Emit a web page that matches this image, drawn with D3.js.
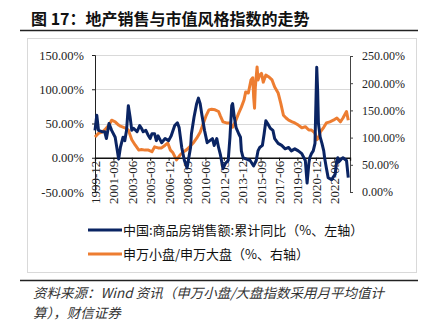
<!DOCTYPE html>
<html>
<head>
<meta charset="utf-8">
<script src="https://cdn.jsdelivr.net/npm/d3@7"></script>
<style>
  body { margin: 0; background: #fff; }
  svg { display: block; }
</style>
</head>
<body>
<div id="chart"></div>
<script>
// 中国:商品房销售额:累计同比 (%, left axis)
var salesDates = ["1999-12","2000-02","2000-04","2000-08","2000-11","2001-01","2001-04","2001-07","2001-11","2002-03","2002-05","2002-08","2002-10","2002-12","2003-02","2003-04","2003-06","2003-08","2003-12","2004-03","2004-05","2004-07","2004-10","2005-01","2005-03","2005-05","2005-08","2005-10","2005-12","2006-04","2006-08","2006-12","2007-03","2007-07","2007-10","2007-12","2008-03","2008-06","2008-09","2008-11","2009-01","2009-02","2009-05","2009-08","2009-10","2009-12","2010-02","2010-05","2010-08","2010-11","2011-02","2011-04","2011-07","2011-09","2011-11","2012-02","2012-05","2012-08","2012-10","2012-12","2013-01","2013-03","2013-05","2013-08","2013-10","2013-11","2014-01","2014-05","2014-09","2015-01","2015-04","2015-06","2015-08","2015-11","2016-01","2016-03","2016-05","2016-08","2016-11","2017-01","2017-05","2017-09","2018-01","2018-05","2018-08","2018-12","2019-04","2019-08","2019-12","2020-02","2020-04","2020-05","2020-07","2020-09","2020-11","2021-01","2021-02","2021-03","2021-05","2021-07","2021-09","2021-10","2021-12","2022-02","2022-06","2022-10","2022-12","2023-01","2023-02","2023-05","2023-07","2023-11","2024-01"]
var salesYoy = [40,62,40,38,38,28,50,40,30,-2,15,30,25,40,76,60,40,43,38,47,43,38,40,32,28,35,35,25,32,22,28,25,32,47,51,44,15,-4,-15,0,15,35,59,79,87,79,62,40,22,25,28,18,28,15,5,-16,-8,-4,30,76,79,59,44,35,30,10,0,-2,-4,-12,-4,10,15,18,35,54,50,43,40,28,21,18,13,15,10,13,10,6,-4,-37,-9,0,6,10,21,132,98,50,30,21,10,0,-15,-29,-32,-24,-4,0,-6,-2,0,-4,-29]

// 申万小盘/申万大盘 (%, right axis)
var styleDates = ["1999-12","2000-04","2000-08","2000-11","2001-04","2001-07","2001-11","2002-03","2002-05","2002-10","2003-02","2003-04","2003-06","2003-10","2004-02","2004-05","2004-09","2005-01","2005-05","2005-08","2005-12","2006-04","2006-08","2006-11","2007-02","2007-05","2007-09","2008-01","2008-05","2008-08","2008-12","2009-04","2009-08","2009-12","2010-03","2010-07","2010-10","2011-01","2011-05","2011-09","2011-11","2012-02","2012-06","2012-10","2013-01","2013-04","2013-08","2013-11","2014-02","2014-04","2014-07","2014-10","2014-12","2015-01","2015-02","2015-03","2015-05","2015-06","2015-08","2015-10","2015-12","2016-03","2016-06","2016-10","2017-01","2017-05","2017-08","2017-11","2018-02","2018-05","2018-09","2018-12","2019-04","2019-08","2019-12","2020-04","2020-07","2020-11","2021-01","2021-03","2021-05","2021-09","2021-12","2022-04","2022-08","2022-12","2023-04","2023-07","2023-11","2024-01"]
var styleRatio = [101,108,110,114,123,132,129,123,121,118,114,105,96,86,77,78,77,77,74,83,81,81,86,90,77,72,59,68,74,77,83,90,99,110,123,141,151,152,151,148,140,129,127,127,119,129,145,156,169,184,182,206,210,175,154,193,230,206,215,218,202,215,212,206,193,182,163,141,136,132,129,127,123,118,120,114,114,108,96,99,110,119,127,129,132,136,129,136,148,132]

var xTickLabels = ["1999-12","2001-09","2003-06","2005-03","2006-12","2008-09","2010-06","2012-03","2013-12","2015-09","2017-06","2019-03","2020-12","2022-09"]
var leftTicks = [-50, 0, 50, 100, 150]
var rightTicks = [0, 50, 100, 150, 200, 250]

var salesName = "中国:商品房销售额:累计同比（%、左轴）"
var styleName = "申万小盘/申万大盘（%、右轴）"

var W = 428, H = 322
var parse = d3.timeParse("%Y-%m")

var svg = d3.select("#chart").append("svg")
    .attr("width", W)
    .attr("height", H)

// title
svg.append("text")
    .attr("x", 31).attr("y", 25)
    .attr("font-family", "'Noto Sans CJK SC', sans-serif")
    .attr("font-weight", "bold")
    .attr("font-size", 16)
    .attr("fill", "#111")
    .text("图 17：地产销售与市值风格指数的走势")

svg.append("line")
    .attr("x1", 20).attr("x2", 418).attr("y1", 30.5).attr("y2", 30.5)
    .attr("stroke", "#222").attr("stroke-width", 1.5)

// chart frame
svg.append("rect")
    .attr("x", 27.5).attr("y", 38.5).attr("width", 389).attr("height", 234)
    .attr("fill", "none").attr("stroke", "#d9d9d9")

var x = d3.scaleTime()
    .domain([parse("1999-12"), parse("2024-03")])
    .range([95, 350])
var yL = d3.scaleLinear().domain([-50, 150]).range([192, 55])
var yR = d3.scaleLinear().domain([0, 250]).range([192, 56])

// gridlines
svg.append("g").selectAll("line")
    .data(leftTicks.filter(function(d){ return d > 0 }))
    .enter().append("line")
    .attr("x1", 95).attr("x2", 350)
    .attr("y1", function(d){ return Math.round(yL(d)) + 0.5 })
    .attr("y2", function(d){ return Math.round(yL(d)) + 0.5 })
    .attr("stroke", "#d9d9d9")

// left axis
var gl = svg.append("g")
    .attr("transform", "translate(95,0)")
    .call(d3.axisLeft(yL).tickValues(leftTicks).tickSize(3).tickPadding(8)
        .tickFormat(function(d){ return d.toFixed(2) + "%" }))
gl.select(".domain").attr("stroke", "#222")
gl.selectAll("line").attr("stroke", "#222")
gl.selectAll("text")
    .attr("font-family", "'Liberation Serif', serif")
    .attr("font-size", 12.5)
    .attr("fill", "#222")

// right axis
var gr = svg.append("g")
    .attr("transform", "translate(350,0)")
    .call(d3.axisRight(yR).tickValues(rightTicks).tickSize(3).tickPadding(9)
        .tickFormat(function(d){ return d.toFixed(2) + "%" }))
gr.select(".domain").attr("stroke", "#444")
gr.selectAll("line").attr("stroke", "#444")
gr.selectAll("text")
    .attr("font-family", "'Liberation Serif', serif")
    .attr("font-size", 12)
    .attr("fill", "#222")

// lines
var styleLine = d3.line()
    .x(function(d, i){ return x(parse(styleDates[i])) })
    .y(function(d){ return yR(d) })
var salesLine = d3.line()
    .x(function(d, i){ return x(parse(salesDates[i])) })
    .y(function(d){ return yL(d) })

svg.append("path")
    .datum(styleRatio)
    .attr("d", styleLine)
    .attr("fill", "none")
    .attr("stroke", "#ed7d31")
    .attr("stroke-width", 3)
    .attr("stroke-linejoin", "round")

// x axis at 0% of the left axis
var gx = svg.append("g")
    .attr("transform", "translate(0," + yL(0) + ")")
    .call(d3.axisBottom(x)
        .tickValues(xTickLabels.map(function(s){ return parse(s) }))
        .tickSize(3)
        .tickFormat(d3.timeFormat("%Y-%m")))
gx.select(".domain").attr("stroke", "#111").attr("stroke-width", 1.3)
gx.selectAll("line").attr("stroke", "#111")
gx.selectAll("text")
    .attr("font-family", "'Liberation Serif', serif")
    .attr("font-size", 13)
    .attr("fill", "#222")
    .attr("transform", "rotate(-90)")
    .attr("text-anchor", "end")
    .attr("x", -3)
    .attr("y", 0)
    .attr("dy", "0.35em")

svg.append("path")
    .datum(salesYoy)
    .attr("d", salesLine)
    .attr("fill", "none")
    .attr("stroke", "#0a2463")
    .attr("stroke-width", 3)
    .attr("stroke-linejoin", "round")

// legend
var legend = [
    {name: salesName, color: "#0a2463", y: 230},
    {name: styleName, color: "#ed7d31", y: 254}
]
var lg = svg.append("g").selectAll("g").data(legend).enter().append("g")
lg.append("line")
    .attr("x1", 88).attr("x2", 122)
    .attr("y1", function(d){ return d.y }).attr("y2", function(d){ return d.y })
    .attr("stroke", function(d){ return d.color })
    .attr("stroke-width", 3)
lg.append("text")
    .attr("x", 123)
    .attr("y", function(d){ return d.y })
    .attr("dy", "0.36em")
    .attr("font-family", "'Noto Sans CJK SC', sans-serif")
    .attr("font-size", 13)
    .attr("fill", "#111")
    .text(function(d){ return d.name })

// source note
svg.append("line")
    .attr("x1", 20).attr("x2", 418).attr("y1", 280.5).attr("y2", 280.5)
    .attr("stroke", "#222").attr("stroke-width", 1.5)

var notes = ["资料来源：Wind 资讯（申万小盘/大盘指数采用月平均值计", "算），财信证券"]
svg.append("g").selectAll("text").data(notes).enter().append("text")
    .attr("x", 33)
    .attr("y", function(d, i){ return 298 + i * 20 })
    .attr("font-family", "'Noto Sans CJK SC', sans-serif")
    .attr("font-style", "italic")
    .attr("font-size", 13.5)
    .attr("fill", "#333")
    .text(function(d){ return d })
</script>
</body>
</html>
